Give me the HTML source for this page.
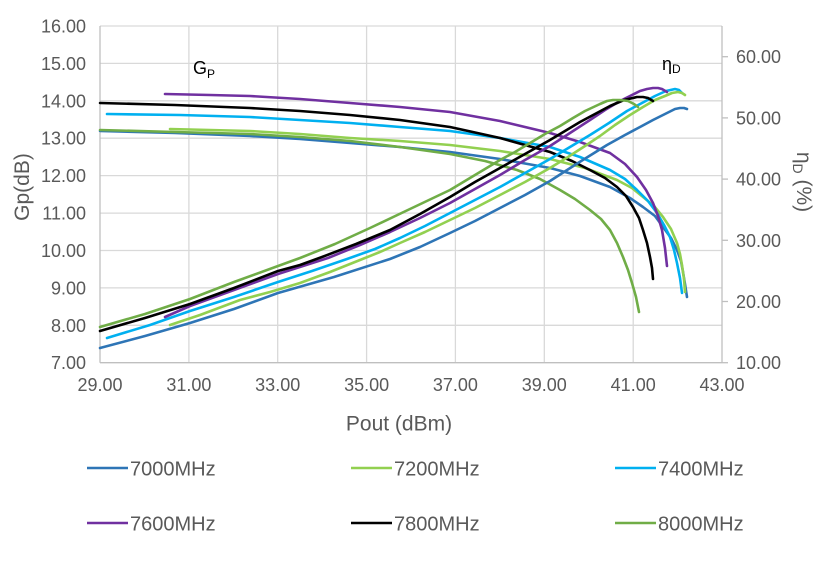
<!DOCTYPE html>
<html>
<head>
<meta charset="utf-8">
<style>
html,body{margin:0;padding:0;background:#fff;}
svg{display:block;}
text{font-family:"Liberation Sans",Arial,sans-serif;}
</style>
</head>
<body>
<svg width="836" height="585" viewBox="0 0 836 585" xmlns="http://www.w3.org/2000/svg">
<rect x="0" y="0" width="836" height="585" fill="#fff"/>
<!-- gridlines -->
<g stroke="#d9d9d9" stroke-width="1.3" fill="none">
<line x1="100" y1="26" x2="722" y2="26"/>
<line x1="100" y1="63.4" x2="722" y2="63.4"/>
<line x1="100" y1="100.8" x2="722" y2="100.8"/>
<line x1="100" y1="138.2" x2="722" y2="138.2"/>
<line x1="100" y1="175.6" x2="722" y2="175.6"/>
<line x1="100" y1="213.1" x2="722" y2="213.1"/>
<line x1="100" y1="250.5" x2="722" y2="250.5"/>
<line x1="100" y1="287.9" x2="722" y2="287.9"/>
<line x1="100" y1="325.3" x2="722" y2="325.3"/>
<line x1="188.9" y1="26" x2="188.9" y2="362.7"/>
<line x1="277.7" y1="26" x2="277.7" y2="362.7"/>
<line x1="366.6" y1="26" x2="366.6" y2="362.7"/>
<line x1="455.4" y1="26" x2="455.4" y2="362.7"/>
<line x1="544.3" y1="26" x2="544.3" y2="362.7"/>
<line x1="633.2" y1="26" x2="633.2" y2="362.7"/>
</g>
<!-- axes -->
<g stroke="#bfbfbf" stroke-width="1.3" fill="none">
<line x1="100" y1="26" x2="100" y2="362.7"/>
<line x1="100" y1="362.7" x2="722" y2="362.7"/>
<line x1="722" y1="26" x2="722" y2="362.7"/>
<line x1="722" y1="362.7" x2="728" y2="362.7"/>
<line x1="722" y1="301.5" x2="728" y2="301.5"/>
<line x1="722" y1="240.3" x2="728" y2="240.3"/>
<line x1="722" y1="179.1" x2="728" y2="179.1"/>
<line x1="722" y1="117.9" x2="728" y2="117.9"/>
<line x1="722" y1="56.7" x2="728" y2="56.7"/>
</g>
<!-- left tick labels -->
<g fill="#595959" font-size="18" text-anchor="end">
<text x="86" y="32.5">16.00</text>
<text x="86" y="69.9">15.00</text>
<text x="86" y="107.3">14.00</text>
<text x="86" y="144.7">13.00</text>
<text x="86" y="182.1">12.00</text>
<text x="86" y="219.6">11.00</text>
<text x="86" y="257">10.00</text>
<text x="86" y="294.4">9.00</text>
<text x="86" y="331.8">8.00</text>
<text x="86" y="369.2">7.00</text>
</g>
<!-- right tick labels -->
<g fill="#595959" font-size="18" text-anchor="start">
<text x="736" y="369.2">10.00</text>
<text x="736" y="308">20.00</text>
<text x="736" y="246.8">30.00</text>
<text x="736" y="185.6">40.00</text>
<text x="736" y="124.4">50.00</text>
<text x="736" y="63.2">60.00</text>
</g>
<!-- bottom tick labels -->
<g fill="#595959" font-size="18" text-anchor="middle">
<text x="100" y="391">29.00</text>
<text x="188.9" y="391">31.00</text>
<text x="277.7" y="391">33.00</text>
<text x="366.6" y="391">35.00</text>
<text x="455.4" y="391">37.00</text>
<text x="544.3" y="391">39.00</text>
<text x="633.2" y="391">41.00</text>
<text x="722" y="391">43.00</text>
</g>
<!-- axis titles -->
<text x="399" y="430.5" font-size="21" fill="#595959" text-anchor="middle">Pout (dBm)</text>
<text transform="translate(29,187) rotate(-90)" font-size="21" fill="#595959" text-anchor="middle">Gp(dB)</text>
<text transform="translate(797,182) rotate(90)" font-size="21" fill="#595959" text-anchor="middle">η<tspan font-size="14" dy="4">D</tspan><tspan dy="-4"> (%)</tspan></text>
<!-- annotations -->
<text x="193" y="74" font-size="18" fill="#000">G<tspan font-size="12" dy="4">P</tspan></text>
<text x="662" y="70" font-size="18" fill="#000">η<tspan font-size="12" dy="3">D</tspan></text>

<!-- curves -->
<g fill="none" stroke-width="2.6" stroke-linejoin="round" stroke-linecap="round">
<!-- Gain curves -->
<polyline stroke="#2e75b6" points="100,131 175,133 250,136 300,139 350,143 400,147 450,152 500,159 550,168 580,176 610,187 630,198 643,207 655,216 663,227 671,238 677,250 681,261 683,272 685,284 687,297"/>
<polyline stroke="#92d050" points="170,129 210,130 250,131 300,134 350,138 400,141 450,145 500,151 550,159 585,168 617,180 632,188 643,197 654,206 663,217 671,229 677,243 680,254 682,265 684,279 685,292"/>
<polyline stroke="#00b0f0" points="107,114 180,115 250,117 300,120 350,123 400,127 450,131 500,138 550,147 580,157 610,170 625,179 637,190 648,201 657,213 664,225 670,237 674,250 677,263 680,278 682,293"/>
<polyline stroke="#7030a0" points="165,94 210,95 250,96 300,99 350,103 400,107 450,112 500,121 550,133 580,142 610,153 625,164 637,177 646,190 653,203 658,216 662,230 665,248 667,266"/>
<polyline stroke="#000000" points="100,103 175,105 250,108 300,111 350,115 400,120 450,127 500,138 550,152 572,161 590,170 605,178 617,187 626,196 633,207 639,218 643,230 647,243 650,257 652,268 653,279"/>
<polyline stroke="#70ad47" points="100,130 175,132 250,134 300,137 350,141 400,147 450,154 485,161 517,170 540,179 560,190 575,199 590,210 601,219 610,230 617,243 623,257 628,270 632,283 636,297 639,312"/>
<!-- Efficiency curves -->
<polyline stroke="#2e75b6" points="100,348 145,336 190,323 234,309 278,293 334,277 390,259 420,247 450,233 475,221 500,208 525,195 550,181 578,163 607,145 625,135 640,127 653,120 665,114 675,109 680,108 684,108 687,109"/>
<polyline stroke="#00b0f0" points="107,338 150,325 190,311 234,297 278,282 312,271 347,259 375,249 400,238 425,226 450,213 475,200 500,187 525,173 550,159 570,147 590,135 609,123 627,111 642,103 655,96 666,91 675,89 679,90 682,93"/>
<polyline stroke="#92d050" points="170,325 200,315 240,300 270,292 300,283 330,272 360,260 380,252 400,243 425,232 450,220 475,208 500,195 525,182 550,168 568,157 585,146 600,136 615,125 630,115 643,107 655,100 665,96 672,93 678,92 682,93 685,95"/>
<polyline stroke="#7030a0" points="165,317 190,306 234,290 278,274 303,266 328,258 360,245 390,232 420,218 450,203 475,189 500,175 525,160 550,146 570,133 590,120 605,110 620,101 630,96 640,91 647,89 653,88 658,88 662,89 667,92"/>
<polyline stroke="#000000" points="100,331 145,318 190,304 234,288 278,271 300,265 322,257 356,244 390,230 420,214 450,197 475,182 500,168 525,154 550,140 565,131 580,122 595,114 610,106 624,100 637,97 643,97 648,98 653,101"/>
<polyline stroke="#70ad47" points="100,327 145,314 190,299 234,282 278,266 300,258 335,244 370,228 410,209 450,190 475,175 500,160 515,152 530,143 545,134 560,126 573,118 585,111 600,104 607,101 613,100 620,100 628,101 634,104 638,107"/>
</g>

<!-- legend -->
<g stroke-width="2.6" stroke-linecap="butt">
<line x1="87" y1="468" x2="128" y2="468" stroke="#2e75b6"/>
<line x1="351" y1="468" x2="392" y2="468" stroke="#92d050"/>
<line x1="615" y1="468" x2="656" y2="468" stroke="#00b0f0"/>
<line x1="87" y1="523" x2="128" y2="523" stroke="#7030a0"/>
<line x1="351" y1="523" x2="392" y2="523" stroke="#000000"/>
<line x1="615" y1="523" x2="656" y2="523" stroke="#70ad47"/>
</g>
<g fill="#595959" font-size="20">
<text x="130" y="475.5">7000MHz</text>
<text x="394" y="475.5">7200MHz</text>
<text x="658" y="475.5">7400MHz</text>
<text x="130" y="530.5">7600MHz</text>
<text x="394" y="530.5">7800MHz</text>
<text x="658" y="530.5">8000MHz</text>
</g>
</svg>
</body>
</html>
